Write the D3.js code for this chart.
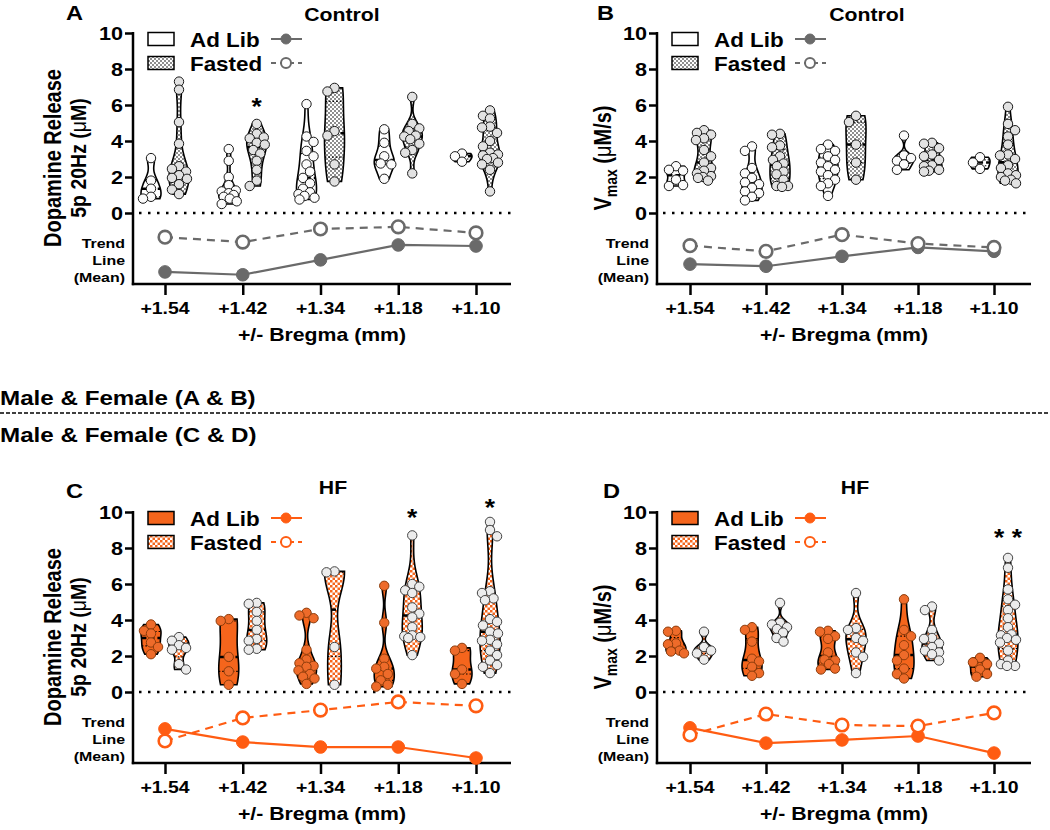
<!DOCTYPE html>
<html><head><meta charset="utf-8">
<script src="https://cdn.jsdelivr.net/npm/d3@7"></script>
<style>body{margin:0;background:#fff} svg{display:block} text{font-family:"Liberation Sans",Arial,sans-serif;fill:#000}</style>
</head><body><svg id="c" width="1050" height="830"></svg>
<script>
const categories = ["+1.54","+1.42","+1.34","+1.18","+1.10"];
const yTickValues = [0,2,4,6,8,10];
const groupNames = ["Ad Lib","Fasted"];

// Panel A: Control, dopamine release (µM)
const ctrlRelAdLib = [
  [3.05, 1.8, 1.35, 0.9, 0.8],
  [3.55, 2.9, 2.0, 1.55, 1.25, 1.2, 1.1, 1.0, 0.9, 0.8, 0.65, 0.5],
  [6.05, 4.25, 3.95, 3.45, 3.15, 2.7, 2.3, 1.95, 1.65, 1.35, 1.15, 1.05, 0.95, 0.85, 0.75],
  [4.65, 3.9, 3.15, 2.75, 2.7, 1.9],
  [3.3, 3.15, 2.85]
];
const ctrlRelFasted = [
  [7.3, 6.85, 5.05, 3.85, 2.6, 2.45, 2.3, 2.1, 1.95, 1.9, 1.6, 1.3, 1.05],
  [4.95, 4.4, 4.2, 4.15, 3.9, 3.8, 3.5, 3.3, 2.9, 2.4, 1.8, 1.5],
  [6.95, 6.75, 4.55, 4.3, 2.7, 1.75],
  [6.45, 4.95, 4.7, 4.55, 4.3, 4.25, 4.1, 3.85, 3.5, 3.35, 2.2],
  [5.7, 5.4, 5.25, 4.8, 4.75, 4.45, 4.0, 3.7, 3.35, 3.25, 3.2, 3.05, 3.0, 2.8, 2.7, 2.4, 1.2]
];
const ctrlRelTrendAdLib = [1.7, 1.3, 3.4, 5.5, 5.35];
const ctrlRelTrendFasted = [6.6, 5.9, 7.75, 8.05, 7.2];

// Panel B: Control, Vmax (µM/s)
const ctrlVmaxAdLib = [
  [2.6, 2.4, 2.35, 1.85, 1.55, 1.5],
  [3.7, 3.45, 2.5, 2.2, 1.95, 1.7, 1.6, 1.4, 1.2, 1.1, 0.9, 0.7],
  [3.8, 3.55, 3.45, 3.15, 2.95, 2.8, 2.6, 2.4, 2.3, 2.1, 1.85, 1.65, 1.5, 0.95],
  [4.3, 3.2, 3.05, 2.9, 2.7, 2.4],
  [3.1, 2.8, 2.45]
];
const ctrlVmaxFasted = [
  [4.6, 4.45, 4.35, 4.15, 4.05, 3.5, 3.15, 2.8, 2.5, 2.35, 2.2, 2.05, 2.0, 1.95, 1.8],
  [4.4, 4.35, 3.75, 3.65, 3.15, 2.95, 2.75, 2.6, 2.3, 2.15, 1.85, 1.5, 1.5, 1.45],
  [5.4, 5.05, 3.8, 2.8, 1.85],
  [3.9, 3.85, 3.6, 3.25, 3.15, 2.95, 2.65, 2.6, 2.4, 2.35, 2.3],
  [5.9, 4.95, 4.6, 4.25, 3.8, 3.25, 3.2, 3.0, 2.65, 2.5, 2.2, 2.1, 2.0, 1.85, 1.8, 1.65]
];
const ctrlVmaxTrendAdLib = [2.8, 2.5, 3.9, 5.15, 4.6];
const ctrlVmaxTrendFasted = [5.4, 4.6, 6.95, 5.7, 5.15];

// Panel C: HF, dopamine release (µM)
const hfRelAdLib = [
  [3.75, 3.4, 3.25, 2.75, 2.5, 2.1],
  [4.05, 3.95, 1.95, 1.15, 0.4],
  [4.4, 4.25, 4.1, 2.35, 1.8, 1.6, 1.45, 1.4, 1.2, 1.0, 0.85, 0.75, 0.45],
  [5.9, 3.85, 1.85, 1.4, 1.3, 1.0, 0.65, 0.4, 0.3],
  [2.45, 2.3, 1.25, 1.0, 0.45]
];
const hfRelFasted = [
  [3.05, 2.85, 2.6, 2.45, 2.35, 1.55, 1.25],
  [4.95, 4.9, 4.45, 3.95, 3.45, 2.95, 2.85, 2.4, 2.35],
  [6.7, 6.65, 2.5, 0.4],
  [8.7, 6.0, 5.85, 5.65, 5.5, 4.7, 4.35, 4.15, 3.6, 3.15, 3.1, 3.05, 3.0, 2.05],
  [9.45, 9.0, 8.65, 5.6, 5.5, 5.2, 5.1, 4.05, 3.9, 3.7, 3.35, 3.25, 2.9, 2.85, 2.65, 2.3, 2.05, 1.75, 1.5, 1.4, 1.05]
];
const hfRelTrendAdLib = [4.8, 2.95, 2.25, 2.25, 0.7];
const hfRelTrendFasted = [3.1, 6.35, 7.45, 8.6, 8.05];

// Panel D: HF, Vmax (µM/s)
const hfVmaxAdLib = [
  [3.4, 3.35, 2.7, 2.65, 2.3, 2.25, 2.15],
  [3.6, 3.45, 2.8, 1.85, 1.7, 1.4, 1.05, 0.9],
  [3.4, 3.35, 3.1, 2.95, 2.2, 1.8, 1.75, 1.55, 1.3, 1.25],
  [5.15, 3.45, 3.1, 2.6, 2.05, 1.75, 1.3, 1.0, 0.75],
  [1.9, 1.65, 1.55, 1.25, 1.0, 0.85]
];
const hfVmaxFasted = [
  [3.35, 2.5, 2.3, 2.15, 1.8],
  [4.95, 3.85, 3.75, 3.6, 3.5, 3.3, 3.0, 2.8],
  [5.5, 3.55, 3.45, 3.0, 2.85, 2.2, 1.95, 1.05],
  [4.75, 4.55, 3.45, 3.0, 2.95, 2.7, 2.5, 2.3, 2.2, 2.1, 1.75],
  [7.45, 6.9, 5.7, 5.15, 4.85, 4.55, 4.1, 3.6, 3.2, 3.15, 3.0, 2.9, 2.75, 2.3, 1.75, 1.55, 1.45, 1.45]
];
const hfVmaxTrendAdLib = [4.95, 2.8, 3.25, 3.8, 1.4];
const hfVmaxTrendFasted = [3.95, 6.9, 5.35, 5.2, 7.05];

// significance marks (level in y units)
const sigA = [{cat:"+1.42", level:6.2, mark:"*"}];
const sigB = [];
const sigC = [{cat:"+1.18", level:10.0, mark:"*"}, {cat:"+1.10", level:10.55, mark:"*"}];
const sigD = [{cat:"+1.10", level:8.9, mark:"* *"}];

// ---------------- drawing ----------------
const SX = 1.18;
const svg = d3.select("#c");
const defs = svg.append("defs");
const pg = defs.append("pattern").attr("id","patGray").attr("width",4).attr("height",4).attr("patternUnits","userSpaceOnUse");
pg.append("rect").attr("width",4).attr("height",4).attr("fill","#fff");
pg.append("rect").attr("width",2).attr("height",2).attr("fill","#8e8e8e");
pg.append("rect").attr("x",2).attr("y",2).attr("width",2).attr("height",2).attr("fill","#8e8e8e");
const po = defs.append("pattern").attr("id","patOrange").attr("width",5).attr("height",5).attr("patternUnits","userSpaceOnUse");
po.append("rect").attr("width",5).attr("height",5).attr("fill","#fff");
po.append("rect").attr("width",2.5).attr("height",2.5).attr("fill","#F5651C");
po.append("rect").attr("x",2.5).attr("y",2.5).attr("width",2.5).attr("height",2.5).attr("fill","#F5651C");

const themes = {
  gray: {adFill:"#fff", fastFill:"url(#patGray)", adPt:"#fbfbfb", adPtStroke:"#1a1a1a", fastPt:"#e2e2e2", fastPtStroke:"#1a1a1a", trend:"#6a6a6a"},
  orange: {adFill:"#F5651C", fastFill:"url(#patOrange)", adPt:"#EE6B2A", adPtStroke:"#8e3d0c", fastPt:"#ececec", fastPtStroke:"#444", trend:"#FF5C12"}
};

function T(g, x, y, s, size, anchor, sx){
  return g.append("text").attr("transform",`translate(${x},${y}) scale(${sx||SX},1)`)
    .attr("font-size",size).attr("font-weight","bold").attr("text-anchor",anchor||"start").text(s);
}

const topRow = {y10:33, y0:213, bottom:284};
const botRow = {y10:512, y0:692, bottom:763};
const leftCol = {left:133, right:511, t0:165, t4:476};
const rightCol = {left:657, right:1031, t0:690, t4:994};

const panels = [
  {letter:"A", letterX:66, title:"Control", titleX:342, titleY:21, letterY:20, row:topRow, col:leftCol, theme:"gray", yTitle:"release",
   adlib:ctrlRelAdLib, fasted:ctrlRelFasted, trendAd:ctrlRelTrendAdLib, trendFa:ctrlRelTrendFasted, sig:sigA},
  {letter:"B", letterX:597, title:"Control", titleX:867, titleY:21, letterY:20, row:topRow, col:rightCol, theme:"gray", yTitle:"vmax",
   adlib:ctrlVmaxAdLib, fasted:ctrlVmaxFasted, trendAd:ctrlVmaxTrendAdLib, trendFa:ctrlVmaxTrendFasted, sig:sigB},
  {letter:"C", letterX:66, title:"HF", titleX:333, titleY:494, letterY:498, row:botRow, col:leftCol, theme:"orange", yTitle:"release",
   adlib:hfRelAdLib, fasted:hfRelFasted, trendAd:hfRelTrendAdLib, trendFa:hfRelTrendFasted, sig:sigC},
  {letter:"D", letterX:603, title:"HF", titleX:855, titleY:494, letterY:498, row:botRow, col:rightCol, theme:"orange", yTitle:"vmax",
   adlib:hfVmaxAdLib, fasted:hfVmaxFasted, trendAd:hfVmaxTrendAdLib, trendFa:hfVmaxTrendFasted, sig:sigD}
];

function kdeWidths(vals, n){
  const s = vals.slice().sort(d3.ascending);
  const sd = d3.deviation(s) || 0.4;
  const iqr = (d3.quantile(s,0.75)-d3.quantile(s,0.25)) || sd;
  let bw = 0.9*Math.min(sd, iqr/1.34)*Math.pow(s.length,-0.2);
  bw = Math.max(0.22, Math.min(bw, 1.2));
  const lo = s[0], hi = s[s.length-1];
  const pts = d3.range(n+1).map(i => lo + (hi-lo)*i/n);
  const dens = pts.map(v => d3.mean(s, d => Math.exp(-0.5*((v-d)/bw)**2)));
  const mx = d3.max(dens);
  return pts.map((v,i)=>({v, w: dens[i]/mx}));
}

function swarm(vals, cx, yS, r, maxOff){
  const pts = vals.map(v=>({v, y:yS(v)})).sort((a,b)=>a.y-b.y);
  const placed = [];
  const minD = r*1.55, step = r*0.75;
  let flip = 1;
  for (const p of pts){
    let best = null;
    for (let k=0; k*step<=maxOff && best===null; k++){
      const cands = k===0 ? [0] : [flip*k*step, -flip*k*step];
      for (const off of cands){
        if (placed.every(q => Math.hypot(q.x-(cx+off), q.y-p.y) >= minD)) { best = off; break; }
      }
    }
    if (best===null){
      let bd=-1;
      for (let off=-maxOff; off<=maxOff; off+=1){
        const d = d3.min(placed, q=>Math.hypot(q.x-(cx+off), q.y-p.y));
        if (d>bd){bd=d; best=off;}
      }
    }
    flip = -flip;
    p.x = cx + best; placed.push(p);
  }
  return placed;
}

panels.forEach(P => {
  const R = P.row, C = P.col, th = themes[P.theme];
  const g = svg.append("g");
  const y = d3.scaleLinear().domain([0,10]).range([R.y0, R.y10]);
  const yTrend = d3.scaleLinear().domain([0,10]).range([R.bottom, R.y0]);
  const x = d3.scalePoint().domain(categories).range([C.t0, C.t4]);
  const off = 14, halfW = 10, r = 4.7;

  // letter + title
  T(g, P.letterX, P.letterY, P.letter, 20, "start");
  T(g, P.titleX, P.titleY, P.title, 18, "middle");

  // axes
  const ya = g.append("g").attr("transform",`translate(${C.left},0)`)
    .call(d3.axisLeft(y).tickValues(yTickValues).tickSize(8).tickFormat(""));
  ya.select(".domain").remove();
  ya.selectAll("line").attr("stroke","#000").attr("stroke-width",2.5);
  yTickValues.forEach(v => T(g, C.left-10, y(v)+6.5, String(v), 18, "end", 1.2));
  const xa = g.append("g").attr("transform",`translate(0,${R.bottom})`)
    .call(d3.axisBottom(x).tickSize(11).tickFormat(""));
  xa.select(".domain").remove();
  xa.selectAll("line").attr("stroke","#000").attr("stroke-width",2.5);
  categories.forEach(c => T(g, x(c), R.bottom+30, c, 16.5, "middle"));
  g.append("line").attr("x1",C.left).attr("x2",C.left).attr("y1",R.y10-1).attr("y2",R.bottom+1.2).attr("stroke","#000").attr("stroke-width",2.5);
  g.append("line").attr("x1",C.left-1.2).attr("x2",C.right).attr("y1",R.bottom).attr("y2",R.bottom).attr("stroke","#000").attr("stroke-width",2.5);
  T(g, (C.left+C.right)/2, R.bottom+57, "+/- Bregma (mm)", 18, "middle");

  // zero dotted line
  g.append("line").attr("x1",C.left+6).attr("x2",C.right).attr("y1",y(0)).attr("y2",y(0))
    .attr("stroke","#000").attr("stroke-width",2.5).attr("stroke-dasharray","2.5,6.5");

  // y title
  const cy = y(0)-55;
  if (P.yTitle==="release"){
    g.append("text").attr("transform",`translate(${C.left-72},${cy}) rotate(-90) scale(1,1.15)`)
      .attr("font-size",20).attr("font-weight","bold").attr("text-anchor","middle").text("Dopamine Release");
    const t2 = g.append("text").attr("transform",`translate(${C.left-47},${cy}) rotate(-90) scale(1,1.15)`)
      .attr("font-size",19.5).attr("font-weight","bold").attr("text-anchor","middle");
    t2.append("tspan").text("5p 20Hz (");
    t2.append("tspan").attr("font-weight","normal").text("μ");
    t2.append("tspan").text("M)");
  } else {
    const t = g.append("text").attr("transform",`translate(${C.left-46},${cy}) rotate(-90) scale(1,1.15)`)
      .attr("font-size",20).attr("font-weight","bold").attr("text-anchor","middle");
    t.append("tspan").text("V");
    t.append("tspan").attr("font-size",14).attr("dy",5).text("max");
    t.append("tspan").attr("dy",-5).text(" (");
    t.append("tspan").attr("font-weight","normal").text("μ");
    t.append("tspan").text("M/s)");
  }

  // trend labels
  [["Trend",-36],["Line",-19],["(Mean)",-2]].forEach(([s,dy]) => T(g, C.left-8, R.bottom+dy, s, 13.5, "end"));

  // violins
  const area = d3.area().curve(d3.curveCatmullRom);
  categories.forEach((cat, i) => {
    [[P.adlib[i], -off, th.adFill, th.adPt, th.adPtStroke], [P.fasted[i], off, th.fastFill, th.fastPt, th.fastPtStroke]].forEach(([vals, dx, fill, pf, ps]) => {
      const cx = x(cat)+dx;
      const prof = kdeWidths(vals, 40);
      const wAt = v => { const s = d3.bisector(d=>d.v).left(prof, v); const p = prof[Math.min(s, prof.length-1)]; return p.w*halfW; };
      g.append("path").datum(prof)
        .attr("d", area.x0(d=>cx-d.w*halfW).x1(d=>cx+d.w*halfW).y(d=>y(d.v)))
        .attr("fill", fill).attr("stroke","#000").attr("stroke-width",1.6);
      const s = vals.slice().sort(d3.ascending);
      const med = d3.quantile(s,0.5), q1 = d3.quantile(s,0.25), q3 = d3.quantile(s,0.75);
      [[q1,"1.5,2",1.2],[q3,"1.5,2",1.2],[med,"5,3",2.5]].forEach(([q,da,sw]) => {
        const w = wAt(q);
        g.append("line").attr("x1",cx-w).attr("x2",cx+w).attr("y1",y(q)).attr("y2",y(q))
          .attr("stroke","#000").attr("stroke-width",sw).attr("stroke-dasharray",da);
      });
      const pts = swarm(vals, cx, y, r, 8);
      g.selectAll(null).data(pts).enter().append("circle")
        .attr("cx",d=>d.x).attr("cy",d=>d.y).attr("r",r)
        .attr("fill",pf).attr("stroke",ps).attr("stroke-width",1);
    });
  });

  // trend lines
  const line = d3.line().x((d,i)=>x(categories[i])).y(d=>yTrend(d));
  g.append("path").attr("d",line(P.trendAd)).attr("fill","none").attr("stroke",th.trend).attr("stroke-width",2.2);
  g.selectAll(null).data(P.trendAd).enter().append("circle").attr("cx",(d,i)=>x(categories[i])).attr("cy",d=>yTrend(d))
    .attr("r",6.3).attr("fill",th.trend).attr("stroke",th.trend).attr("stroke-width",1);
  g.append("path").attr("d",line(P.trendFa)).attr("fill","none").attr("stroke",th.trend).attr("stroke-width",2.2).attr("stroke-dasharray","8,6");
  g.selectAll(null).data(P.trendFa).enter().append("circle").attr("cx",(d,i)=>x(categories[i])).attr("cy",d=>yTrend(d))
    .attr("r",6.3).attr("fill","#fff").attr("stroke",th.trend).attr("stroke-width",2.6);

  // significance
  P.sig.forEach(sg => T(g, x(sg.cat)+off, y(sg.level)+14, sg.mark, 24, "middle", 1.1));

  // legend
  const lx = C.left+15, r1 = R.y10+6, r2 = r1+24;
  [[r1, groupNames[0], th.adFill, false],[r2, groupNames[1], th.fastFill, true]].forEach(([ry, name, fill, dashed]) => {
    g.append("rect").attr("x",lx).attr("y",ry-6.5).attr("width",26).attr("height",13).attr("fill",fill).attr("stroke","#000").attr("stroke-width",1.5);
    T(g, C.left+57, ry+7.5, name, 20, "start", 1.12);
    g.append("line").attr("x1",C.left+138).attr("x2",C.left+169).attr("y1",ry).attr("y2",ry)
      .attr("stroke",th.trend).attr("stroke-width",2).attr("stroke-dasharray",dashed?"5,4":null);
    g.append("circle").attr("cx",C.left+153).attr("cy",ry).attr("r",5)
      .attr("fill",dashed?"#fff":th.trend).attr("stroke",th.trend).attr("stroke-width",dashed?2:1);
  });
});

// separator
const sg = svg.append("g");
T(sg, 0, 405, "Male & Female (A & B)", 20.5, "start");
sg.append("line").attr("x1",0).attr("x2",1050).attr("y1",413).attr("y2",413).attr("stroke","#000").attr("stroke-width",1.5).attr("stroke-dasharray","4,2");
T(sg, 0, 442, "Male & Female (C & D)", 20.5, "start");
</script>
</body></html>
